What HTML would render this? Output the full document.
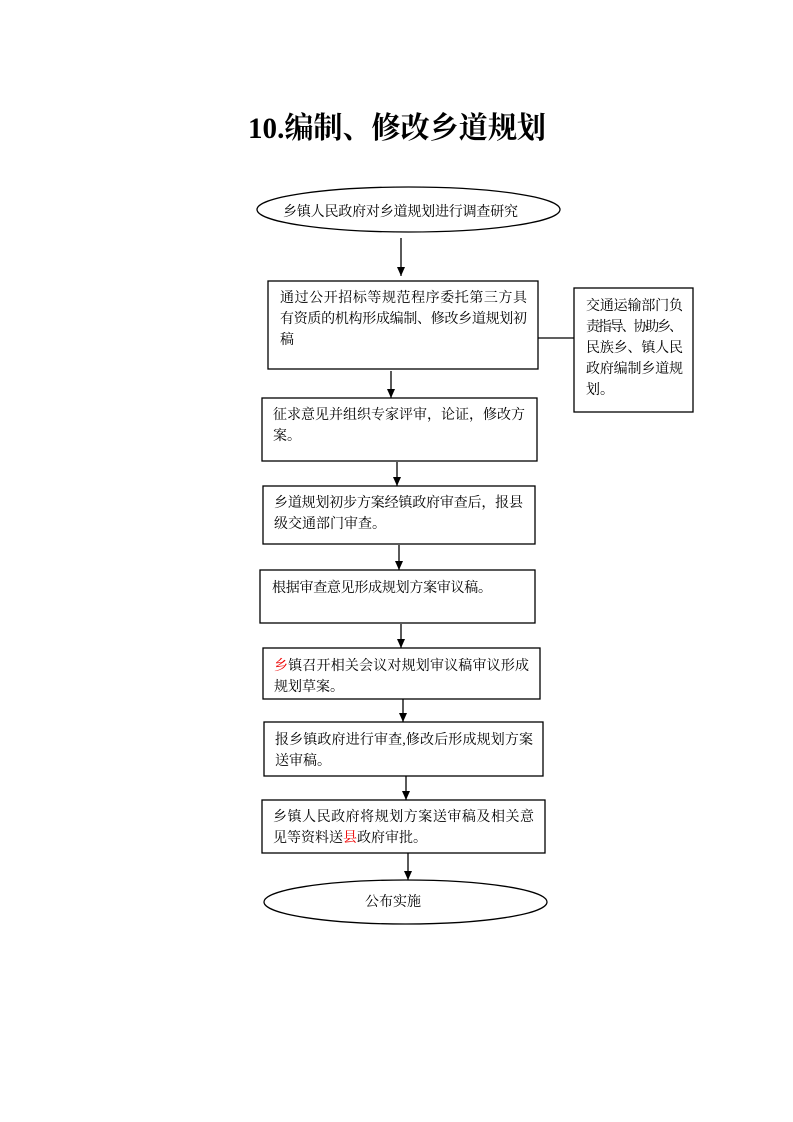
<!DOCTYPE html>
<html><head><meta charset="utf-8"><style>
html,body{margin:0;padding:0;background:#fff;}
svg{display:block;}
text{font-family:"Liberation Serif","Noto Serif CJK SC","Noto Sans CJK SC",serif;font-size:14px;fill:#000;}
</style></head><body>
<svg width="793" height="1122" viewBox="0 0 793 1122" xmlns="http://www.w3.org/2000/svg">
<defs><marker id="a" markerWidth="9" markerHeight="8" refX="9" refY="4" orient="auto" markerUnits="userSpaceOnUse"><path d="M0,0 L9,4 L0,8 z" fill="#000"/></marker></defs>
<text x="397" y="138" text-anchor="middle" style="font-size:30px;font-weight:bold" textLength="298" lengthAdjust="spacingAndGlyphs">10.编制、修改乡道规划</text>
<g fill="none" stroke="#000" stroke-width="1.3">
<ellipse cx="408.5" cy="209.5" rx="151.5" ry="22.5"/>
<rect x="268" y="281" width="270" height="88"/>
<rect x="574" y="288" width="119" height="124"/>
<line x1="538" y1="338" x2="574" y2="338"/>
<rect x="262" y="398" width="275" height="63"/>
<rect x="263" y="486" width="272" height="58"/>
<rect x="260" y="570" width="275" height="53"/>
<rect x="263" y="648" width="277" height="51"/>
<rect x="264" y="722" width="279" height="54"/>
<rect x="262" y="800" width="283" height="53"/>
<ellipse cx="405.5" cy="902" rx="141.5" ry="22"/>
<g marker-end="url(#a)">
<line x1="401" y1="238" x2="401" y2="276"/>
<line x1="391" y1="371" x2="391" y2="398"/>
<line x1="397" y1="462" x2="397" y2="486"/>
<line x1="399" y1="545" x2="399" y2="570"/>
<line x1="401" y1="624" x2="401" y2="648"/>
<line x1="403" y1="699" x2="403" y2="722"/>
<line x1="406" y1="776" x2="406" y2="800"/>
<line x1="408" y1="853" x2="408" y2="880"/>
</g></g>
<text x="283" y="216" textLength="235">乡镇人民政府对乡道规划进行调查研究</text>
<text x="280" y="302" textLength="247">通过公开招标等规范程序委托第三方具</text>
<text x="280" y="323" textLength="247">有资质的机构形成编制、修改乡道规划初</text>
<text x="280" y="344">稿</text>
<text x="586" y="310" textLength="97">交通运输部门负</text>
<text x="586" y="331" textLength="97">责指导、协助乡、</text>
<text x="586" y="352" textLength="97">民族乡、镇人民</text>
<text x="586" y="373" textLength="97">政府编制乡道规</text>
<text x="586" y="394">划。</text>
<text x="273" y="419" textLength="252">征求意见并组织专家评审，论证，修改方</text>
<text x="273" y="440">案。</text>
<text x="274" y="507" textLength="249">乡道规划初步方案经镇政府审查后，报县</text>
<text x="274" y="528">级交通部门审查。</text>
<text x="272" y="592" textLength="220">根据审查意见形成规划方案审议稿。</text>
<text x="274" y="670" textLength="255"><tspan fill="#e00">乡</tspan>镇召开相关会议对规划审议稿审议形成</text>
<text x="274" y="691">规划草案。</text>
<text x="275" y="744" textLength="258">报乡镇政府进行审查,修改后形成规划方案</text>
<text x="275" y="765">送审稿。</text>
<text x="273" y="821" textLength="261">乡镇人民政府将规划方案送审稿及相关意</text>
<text x="273" y="842">见等资料送<tspan fill="#e00">县</tspan>政府审批。</text>
<text x="393" y="906" text-anchor="middle">公布实施</text>
</svg>
</body></html>
